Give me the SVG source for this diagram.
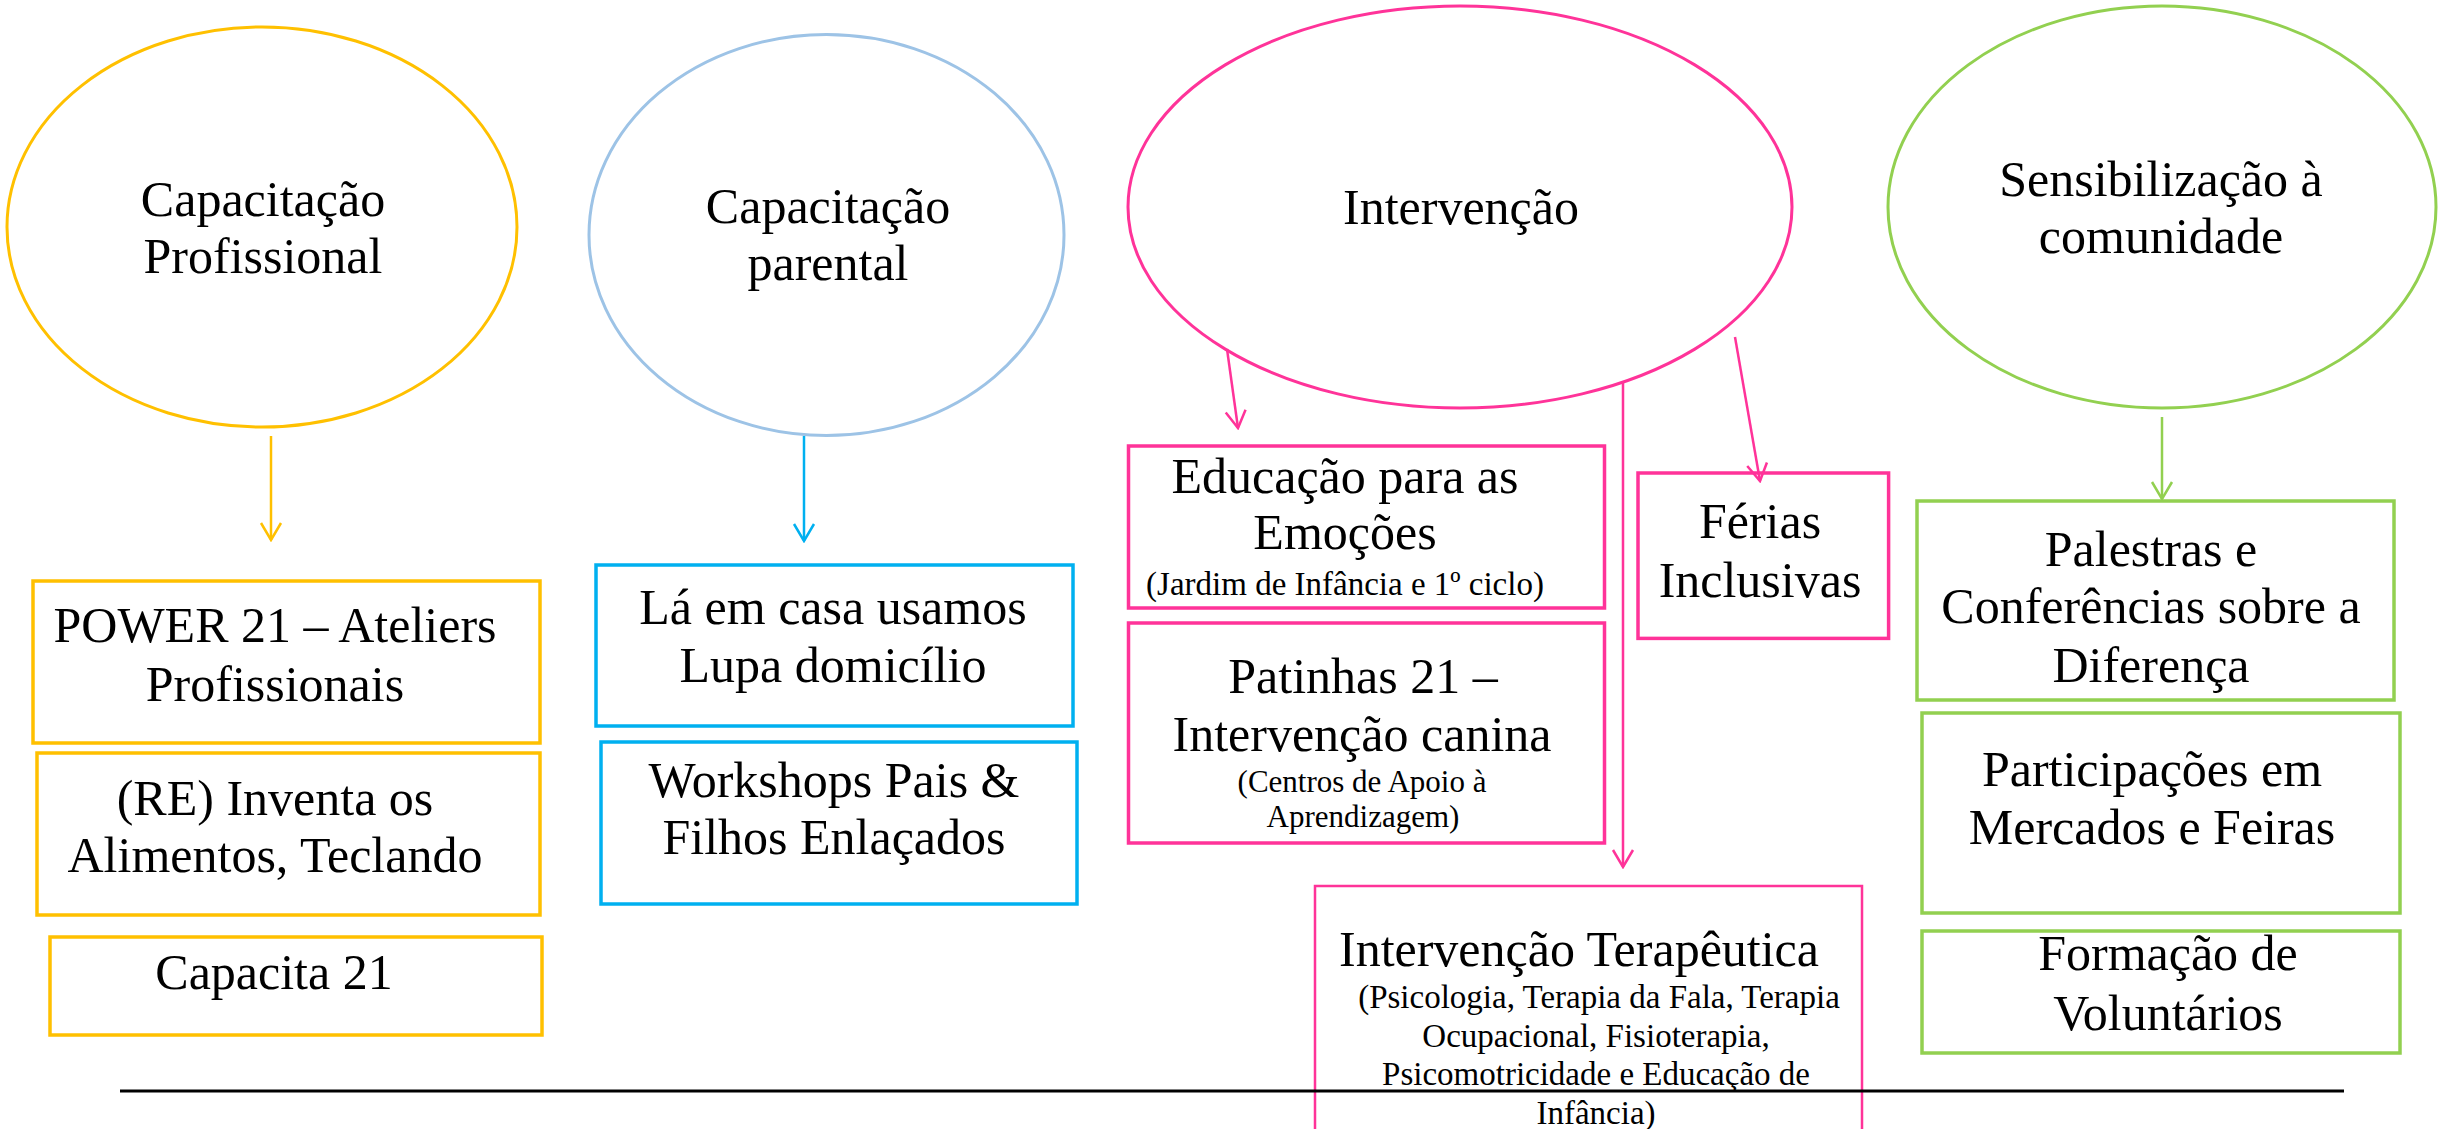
<svg xmlns="http://www.w3.org/2000/svg" width="2453" height="1129" viewBox="0 0 2453 1129">
<style>
text{font-family:"Liberation Serif","Times New Roman",serif;fill:#000;text-anchor:middle}
.t{font-size:50px}
.s{font-size:33px}
.s2{font-size:31px}
.y{stroke:#FFC000}
.b{stroke:#9DC3E6}
.bb{stroke:#00B0F0}
.p{stroke:#FF3399}
.g{stroke:#92D050}
.node{fill:#fff;stroke-width:3.5}
.ell{fill:#fff;stroke-width:3}
.c{fill:none;stroke-width:2.5}
</style>
<defs>
<marker id="ay" viewBox="0 0 22 24" refX="20" refY="12" markerWidth="22" markerHeight="24" markerUnits="userSpaceOnUse" orient="auto"><path d="M3,2 L20,12 L3,22" fill="none" stroke="#FFC000" stroke-width="2.5"/></marker>
<marker id="ab" viewBox="0 0 22 24" refX="20" refY="12" markerWidth="22" markerHeight="24" markerUnits="userSpaceOnUse" orient="auto"><path d="M3,2 L20,12 L3,22" fill="none" stroke="#00B0F0" stroke-width="2.5"/></marker>
<marker id="ap" viewBox="0 0 22 24" refX="20" refY="12" markerWidth="22" markerHeight="24" markerUnits="userSpaceOnUse" orient="auto"><path d="M3,2 L20,12 L3,22" fill="none" stroke="#FF3399" stroke-width="2.5"/></marker>
<marker id="ag" viewBox="0 0 22 24" refX="20" refY="12" markerWidth="22" markerHeight="24" markerUnits="userSpaceOnUse" orient="auto"><path d="M3,2 L20,12 L3,22" fill="none" stroke="#92D050" stroke-width="2.5"/></marker>
</defs>
<rect width="2453" height="1129" fill="#fff"/>

<g id="n-capacitacao-profissional">
<ellipse class="ell y" cx="262" cy="227" rx="255" ry="200"/>
<text class="t" x="263" y="216">Capacitação</text>
<text class="t" x="263" y="273">Profissional</text>
</g>
<g id="n-capacitacao-parental">
<ellipse class="ell b" cx="826.5" cy="235" rx="237.5" ry="200.5"/>
<text class="t" x="828" y="223">Capacitação</text>
<text class="t" x="828" y="280">parental</text>
</g>
<g id="n-intervencao">
<ellipse class="ell p" cx="1460" cy="207" rx="332" ry="201"/>
<text class="t" x="1461" y="224">Intervenção</text>
</g>
<g id="n-sensibilizacao">
<ellipse class="ell g" cx="2162" cy="207" rx="274" ry="201"/>
<text class="t" x="2161" y="196">Sensibilização à</text>
<text class="t" x="2161" y="253">comunidade</text>
</g>

<g id="n-power21">
<rect class="node y" x="33" y="581" width="507" height="162"/>
<text class="t" x="275" y="642">POWER 21 – Ateliers</text>
<text class="t" x="275" y="701">Profissionais</text>
</g>
<g id="n-reinventa">
<rect class="node y" x="37" y="753" width="503" height="162"/>
<text class="t" x="275" y="815">(RE) Inventa os</text>
<text class="t" x="275" y="872">Alimentos, Teclando</text>
</g>
<g id="n-capacita21">
<rect class="node y" x="50" y="937" width="492" height="98"/>
<text class="t" x="274" y="989">Capacita 21</text>
</g>

<g id="n-la-em-casa">
<rect class="node bb" x="596" y="565" width="477" height="161"/>
<text class="t" x="833" y="624">Lá em casa usamos</text>
<text class="t" x="833" y="682">Lupa domicílio</text>
</g>
<g id="n-workshops">
<rect class="node bb" x="601" y="742" width="476" height="162"/>
<text class="t" x="834" y="797">Workshops Pais &amp;</text>
<text class="t" x="834" y="854">Filhos Enlaçados</text>
</g>

<g id="n-educacao-emocoes">
<rect class="node p" x="1128.5" y="446" width="476" height="162"/>
<text class="t" x="1345" y="493">Educação para as</text>
<text class="t" x="1345" y="549">Emoções</text>
<text class="s" x="1345" y="595">(Jardim de Infância e 1º ciclo)</text>
</g>
<g id="n-patinhas">
<rect class="node p" x="1128.5" y="623" width="476" height="220"/>
<text class="t" x="1363" y="693">Patinhas 21 –</text>
<text class="t" x="1362" y="751">Intervenção canina</text>
<text class="s2" x="1362" y="792">(Centros de Apoio à</text>
<text class="s2" x="1363" y="827">Aprendizagem)</text>
</g>
<g id="n-ferias">
<rect class="node p" x="1638" y="473" width="250.6" height="165.4"/>
<text class="t" x="1760" y="538">Férias</text>
<text class="t" x="1760" y="597">Inclusivas</text>
</g>
<g id="n-terapeutica">
<rect class="node p" style="stroke-width:2.5" x="1315" y="886" width="547" height="260"/>
<text class="t" x="1579" y="966">Intervenção Terapêutica</text>
<text class="s" x="1599" y="1008">(Psicologia, Terapia da Fala, Terapia</text>
<text class="s" x="1596" y="1047">Ocupacional, Fisioterapia,</text>
<text class="s" x="1596" y="1085">Psicomotricidade e Educação de</text>
<text class="s" x="1596" y="1124">Infância)</text>
</g>

<g id="n-palestras">
<rect class="node g" x="1917" y="501" width="477" height="199"/>
<text class="t" x="2151" y="566">Palestras e</text>
<text class="t" x="2151" y="623">Conferências sobre a</text>
<text class="t" x="2151" y="682">Diferença</text>
</g>
<g id="n-participacoes">
<rect class="node g" x="1922" y="713" width="478" height="200"/>
<text class="t" x="2152" y="786">Participações em</text>
<text class="t" x="2152" y="844">Mercados e Feiras</text>
</g>
<g id="n-formacao">
<rect class="node g" x="1922" y="931" width="478" height="122"/>
<text class="t" x="2168" y="970">Formação de</text>
<text class="t" x="2168" y="1030">Voluntários</text>
</g>

<g id="connectors">
<line class="c y" x1="271" y1="436" x2="271" y2="540" marker-end="url(#ay)"/>
<line class="c bb" x1="804" y1="436" x2="804" y2="541" marker-end="url(#ab)"/>
<line class="c p" x1="1227" y1="349" x2="1238" y2="428" marker-end="url(#ap)"/>
<line class="c p" x1="1623" y1="382" x2="1623" y2="867" marker-end="url(#ap)"/>
<line class="c p" x1="1735" y1="337" x2="1760" y2="481" marker-end="url(#ap)"/>
<line class="c g" x1="2162" y1="417" x2="2162" y2="499" marker-end="url(#ag)"/>
</g>

<line id="baseline-rule" x1="120" y1="1091" x2="2344" y2="1091" stroke="#000" stroke-width="3"/>
</svg>
